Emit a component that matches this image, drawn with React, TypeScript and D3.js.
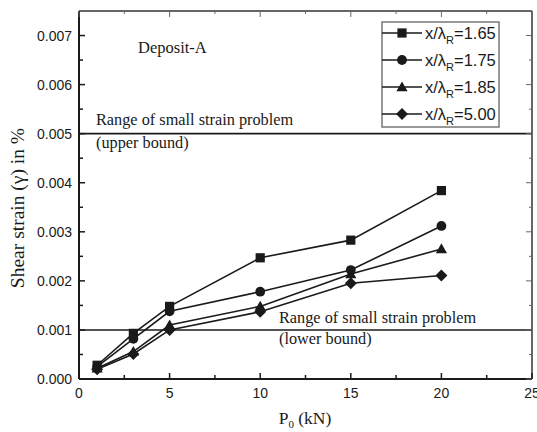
import React from 'react';
import * as d3 from 'd3';

// P0 (kN) load steps
const loads = [1, 3, 5, 10, 15, 20];

// shear strain (%) per distance ratio
const strain165 = [0.00028, 0.00093, 0.00148, 0.00247, 0.00283, 0.00384];
const strain175 = [0.00025, 0.00082, 0.00138, 0.00178, 0.00222, 0.00312];
const strain185 = [0.00022, 0.00056, 0.0011, 0.00148, 0.00214, 0.00265];
const strain500 = [0.0002, 0.00051, 0.001, 0.00137, 0.00195, 0.00211];

const seriesNames = ['1.65', '1.75', '1.85', '5.00'];
const markerTypes = ['square', 'circle', 'triangle', 'diamond'];

const xTicks = [0, 5, 10, 15, 20, 25];
const yTicks = [0, 0.001, 0.002, 0.003, 0.004, 0.005, 0.006, 0.007];

const upperBound = 0.005;
const lowerBound = 0.001;

const W = 537;
const H = 432;
const margin = { top: 11, right: 5, bottom: 53, left: 79 };

const serif = '"Liberation Serif", "Times New Roman", serif';
const sans = '"Liberation Sans", Arial, sans-serif';
const ink = '#1a1a1a';

const Marker = ({ type, cx, cy }: { type: string; cx: number; cy: number }) => {
  const s = 4.6;
  if (type === 'square') return <rect x={cx - s} y={cy - s} width={s * 2} height={s * 2} fill={ink} />;
  if (type === 'circle') return <circle cx={cx} cy={cy} r={s + 0.3} fill={ink} />;
  if (type === 'triangle') {
    const t = s + 1;
    return <path d={`M${cx},${cy - t} L${cx + t},${cy + t * 0.75} L${cx - t},${cy + t * 0.75} Z`} fill={ink} />;
  }
  const d = s + 1.4;
  return <path d={`M${cx},${cy - d} L${cx + d},${cy} L${cx},${cy + d} L${cx - d},${cy} Z`} fill={ink} />;
};

const App = () => {
  const x = d3.scaleLinear().domain([0, 25]).range([margin.left, W - margin.right]);
  const y = d3.scaleLinear().domain([0, 0.0075]).range([H - margin.bottom, margin.top]);
  const [x0, x1] = x.range();
  const [y0, y1] = y.range();

  const series = [strain165, strain175, strain185, strain500];
  const line = d3
    .line<number>()
    .x((_, i) => x(loads[i]))
    .y((d) => y(d));

  const xMinor = d3.range(2.5, 25, 5);
  const yMinor = d3.range(0.0005, 0.0075, 0.001);

  const legX = 382;
  const legY = 22;
  const legRow = 27;

  return (
    <svg width={W} height={H} style={{ position: 'absolute', left: 0, top: 0, background: '#fff' }}>
      {/* bound lines */}
      {[upperBound, lowerBound].map((b) => (
        <line key={b} x1={x0} x2={x1} y1={y(b)} y2={y(b)} stroke={ink} strokeWidth={1.6} />
      ))}

      {/* series */}
      {series.map((s, si) => (
        <g key={si}>
          <path d={line(s) || ''} fill="none" stroke={ink} strokeWidth={1.6} />
          {s.map((v, i) => (
            <Marker key={i} type={markerTypes[si]} cx={x(loads[i])} cy={y(v)} />
          ))}
        </g>
      ))}

      {/* frame: top and right lighter */}
      <line x1={x0} x2={x1} y1={y1} y2={y1} stroke="#333" strokeWidth={1.5} />
      <line x1={x1} x2={x1} y1={y1} y2={y0} stroke="#333" strokeWidth={1.5} />
      <line x1={x0} x2={x1} y1={y0} y2={y0} stroke={ink} strokeWidth={2} />
      <line x1={x0} x2={x0} y1={y1} y2={y0} stroke={ink} strokeWidth={2} />

      {/* x ticks */}
      {xTicks.map((t) => (
        <g key={'xt' + t}>
          <line x1={x(t)} x2={x(t)} y1={y0} y2={y0 - 6} stroke={ink} strokeWidth={1.5} />
          <line x1={x(t)} x2={x(t)} y1={y1} y2={y1 + 6} stroke="#666" strokeWidth={1} />
          <text x={x(t)} y={y0 + 19} textAnchor="middle" fontFamily={sans} fontSize={14} fill={ink}>
            {t}
          </text>
        </g>
      ))}
      {xMinor.map((t) => (
        <g key={'xm' + t}>
          <line x1={x(t)} x2={x(t)} y1={y0} y2={y0 - 4} stroke={ink} strokeWidth={1.5} />
          <line x1={x(t)} x2={x(t)} y1={y1} y2={y1 + 3} stroke="#666" strokeWidth={1} />
        </g>
      ))}

      {/* y ticks */}
      {yTicks.map((t) => (
        <g key={'yt' + t}>
          <line x1={x0} x2={x0 + 6} y1={y(t)} y2={y(t)} stroke={ink} strokeWidth={1.5} />
          <line x1={x1} x2={x1 - 6} y1={y(t)} y2={y(t)} stroke="#666" strokeWidth={1} />
          <text x={x0 - 7} y={y(t) + 5} textAnchor="end" fontFamily={sans} fontSize={14} fill={ink}>
            {d3.format('.3f')(t)}
          </text>
        </g>
      ))}
      {yMinor.map((t) => (
        <g key={'ym' + t}>
          <line x1={x0} x2={x0 + 4} y1={y(t)} y2={y(t)} stroke={ink} strokeWidth={1.5} />
          <line x1={x1} x2={x1 - 3} y1={y(t)} y2={y(t)} stroke="#666" strokeWidth={1} />
        </g>
      ))}

      {/* annotations */}
      <text x={138} y={53} fontFamily={serif} fontSize={16.5} fill={ink}>Deposit-A</text>
      <text x={96} y={125} fontFamily={serif} fontSize={16.3} fill={ink}>Range of small strain problem</text>
      <text x={96} y={148} fontFamily={serif} fontSize={16.3} fill={ink}>(upper bound)</text>
      <text x={279} y={323} fontFamily={serif} fontSize={16.3} fill={ink}>Range of small strain problem</text>
      <text x={279} y={344} fontFamily={serif} fontSize={16.3} fill={ink}>(lower bound)</text>

      {/* axis titles */}
      <text
        transform={`translate(24,208) rotate(-90)`}
        textAnchor="middle"
        fontFamily={serif}
        fontSize={19.5}
        fill={ink}
      >
        Shear strain (γ) in %
      </text>
      <text x={305} y={424} textAnchor="middle" fontFamily={serif} fontSize={17.5} fill={ink}>
        P<tspan fontSize={11} dy={3.5}>0</tspan>
        <tspan dy={-3.5}> (kN)</tspan>
      </text>

      {/* legend */}
      <rect x={legX} y={legY} width={117} height={105} fill="#fff" stroke="#777" strokeWidth={1.5} />
      {seriesNames.map((n, i) => {
        const cy = legY + 11 + i * legRow;
        return (
          <g key={n}>
            <line x1={legX} x2={legX + 40} y1={cy} y2={cy} stroke={ink} strokeWidth={1.5} />
            <Marker type={markerTypes[i]} cx={legX + 20} cy={cy} />
            <text x={legX + 43} y={cy + 5.5} fontFamily={sans} fontSize={16.5} fill={ink}>
              x/λ<tspan fontSize={11} dy={5}>R</tspan>
              <tspan dy={-5}>={n}</tspan>
            </text>
          </g>
        );
      })}
    </svg>
  );
};

export default App;
